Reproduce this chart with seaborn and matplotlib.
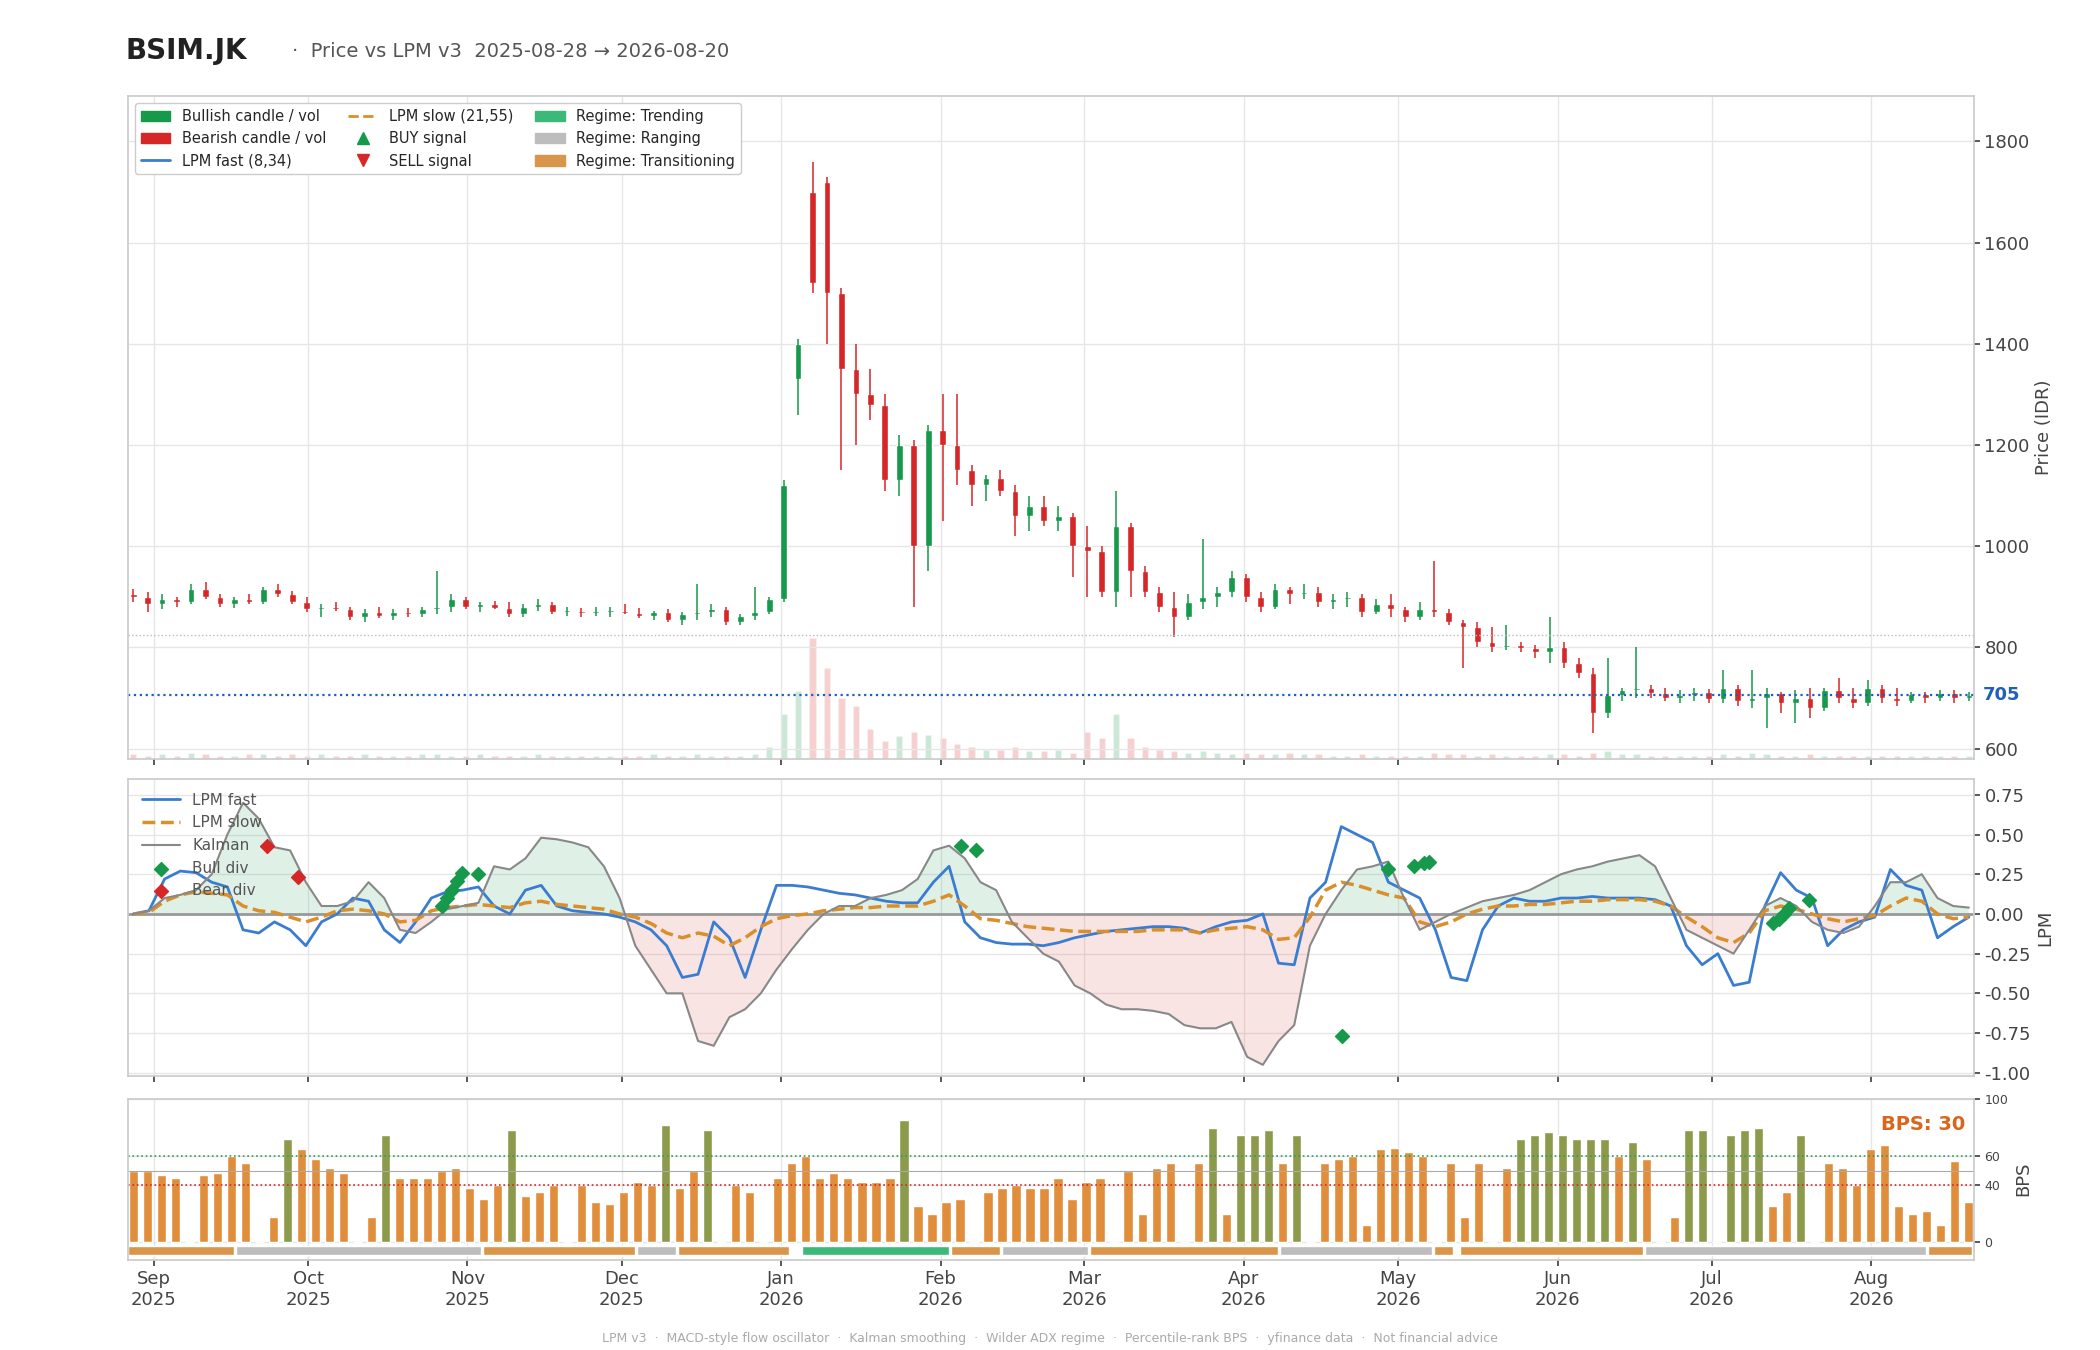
import matplotlib
matplotlib.use("Agg")
import matplotlib.dates as mdates
import matplotlib.pyplot as plt
import numpy as np
import pandas as pd
import seaborn as sns
from matplotlib.lines import Line2D
from matplotlib.patches import Patch

START, END = "2025-08-28", "2026-08-20"

# daily-ish candles (open, high, low, close)
candles = [
    (905, 915, 890, 900), (900, 910, 870, 885), (885, 905, 875, 895), (895, 900, 880, 890), (890, 925, 885, 915),
    (915, 930, 895, 900), (900, 905, 880, 885), (885, 900, 878, 895), (895, 905, 885, 890), (890, 920, 885, 915),
    (915, 925, 900, 905),
    (905, 912, 885, 890), (890, 900, 870, 875), (875, 885, 860, 880), (880, 890, 872, 875), (875, 880, 855, 860),
    (860, 875, 850, 870), (870, 880, 858, 862), (862, 875, 855, 870), (870, 878, 860, 865), (865, 880, 860, 875),
    (875, 950, 865, 880),
    (880, 905, 870, 895), (895, 900, 875, 880), (880, 890, 870, 885), (885, 892, 875, 878), (878, 890, 860, 865),
    (865, 885, 860, 880), (880, 895, 872, 885), (885, 890, 865, 870), (870, 880, 862, 872), (872, 878, 860, 868),
    (868, 880, 862, 870),
    (870, 880, 860, 872), (872, 885, 865, 868), (868, 878, 858, 862), (862, 872, 855, 870), (870, 875, 850, 855),
    (855, 870, 845, 865), (865, 925, 855, 870), (870, 885, 860, 875), (875, 880, 845, 850), (850, 865, 845, 862),
    (862, 920, 855, 870),
    (870, 900, 865, 895), (895, 1130, 890, 1120), (1330, 1410, 1260, 1400), (1700, 1760, 1500, 1520), (1720, 1730, 1400, 1500),
    (1500, 1510, 1150, 1350), (1350, 1400, 1200, 1300), (1300, 1350, 1250, 1280), (1280, 1300, 1110, 1130), (1130, 1220, 1100, 1200),
    (1200, 1210, 880, 1000),
    (1000, 1240, 950, 1230), (1230, 1300, 1050, 1200), (1200, 1300, 1120, 1150), (1150, 1160, 1080, 1120), (1120, 1140, 1090, 1135),
    (1135, 1150, 1100, 1110), (1110, 1120, 1020, 1060), (1060, 1100, 1030, 1080), (1080, 1100, 1040, 1050), (1050, 1080, 1030, 1060),
    (1060, 1065, 940, 1000),
    (1000, 1040, 900, 990), (990, 1000, 900, 910), (910, 1110, 880, 1040), (1040, 1045, 900, 950), (950, 960, 900, 910),
    (910, 920, 870, 880), (880, 910, 820, 860), (860, 905, 855, 890), (890, 1015, 875, 900), (900, 920, 880, 910),
    (910, 950, 900, 940),
    (940, 945, 890, 900), (900, 910, 870, 880), (880, 925, 875, 915), (915, 920, 885, 905), (905, 925, 895, 910),
    (910, 920, 880, 890), (890, 905, 875, 895), (895, 910, 880, 900), (900, 905, 860, 870), (870, 895, 865, 885),
    (885, 905, 860, 875),
    (875, 880, 850, 860), (860, 890, 855, 875), (875, 970, 860, 870), (870, 875, 845, 850), (850, 855, 760, 840),
    (840, 850, 800, 810), (810, 840, 790, 800), (800, 845, 795, 805), (805, 810, 790, 798), (798, 805, 780, 790),
    (790, 860, 770, 800),
    (800, 810, 760, 770), (770, 780, 740, 750), (750, 760, 630, 670), (670, 780, 660, 705), (705, 720, 695, 715),
    (715, 800, 700, 720), (720, 725, 700, 710), (710, 720, 695, 700), (700, 715, 690, 705), (705, 720, 695, 712),
    (712, 718, 690, 698),
    (698, 755, 690, 720), (720, 725, 685, 695), (695, 755, 680, 700), (700, 720, 640, 710), (710, 712, 670, 690),
    (690, 715, 650, 700), (700, 720, 660, 680), (680, 720, 675, 715), (715, 740, 690, 700), (700, 720, 680, 690),
    (690, 735, 685, 720),
    (720, 725, 690, 700), (700, 720, 685, 695), (695, 712, 690, 708), (708, 712, 690, 700), (700, 715, 695, 710),
    (710, 715, 690, 700), (700, 712, 695, 705),
]
volumes = [
    3, 2, 3, 2, 4, 3, 2, 2, 3, 3, 2,
    3, 2, 3, 2, 2, 3, 2, 2, 2, 3, 3,
    2, 2, 3, 2, 2, 2, 3, 2, 2, 2, 2,
    2, 2, 2, 3, 2, 2, 3, 2, 2, 2, 3,
    8, 30, 45, 80, 60, 40, 35, 20, 12, 15, 18,
    16, 14, 10, 8, 6, 6, 8, 5, 5, 6, 4,
    18, 14, 30, 14, 8, 6, 5, 4, 5, 4, 3,
    4, 3, 3, 4, 3, 3, 2, 2, 3, 2, 2,
    2, 2, 4, 3, 3, 2, 3, 2, 2, 2, 3,
    3, 2, 4, 5, 3, 3, 2, 2, 2, 2, 2,
    3, 2, 4, 3, 2, 2, 3, 2, 2, 2, 2,
    2, 2, 2, 2, 2, 2, 2,
]
last_price = 705
resistance = 825

lpm_fast = [
    0, 0.02, 0.22, 0.27, 0.26, 0.2, 0.17, -0.1, -0.12, -0.05,
    -0.1, -0.2, -0.05, 0.0, 0.1, 0.08, -0.1, -0.18, -0.05, 0.1,
    0.14, 0.15, 0.17, 0.05, 0.0, 0.15, 0.18, 0.05, 0.02, 0.01,
    0, -0.02, -0.05, -0.1, -0.2, -0.4, -0.38, -0.05, -0.15, -0.4,
    -0.1, 0.18, 0.18, 0.17, 0.15, 0.13, 0.12, 0.1, 0.08, 0.07,
    0.07, 0.2, 0.3, -0.05, -0.15, -0.18, -0.19, -0.19, -0.2, -0.18,
    -0.15, -0.13, -0.11, -0.1, -0.09, -0.08, -0.08, -0.09, -0.12, -0.08,
    -0.05, -0.04, 0.0, -0.31, -0.32, 0.1, 0.2, 0.55, 0.5, 0.45,
    0.2, 0.15, 0.1, -0.1, -0.4, -0.42, -0.1, 0.05, 0.1, 0.08,
    0.08, 0.1, 0.1, 0.11, 0.1, 0.1, 0.1, 0.09, 0.05, -0.2,
    -0.32, -0.25, -0.45, -0.43, 0.05, 0.26, 0.15, 0.1, -0.2, -0.1,
    -0.05, -0.02, 0.28, 0.18, 0.15, -0.15, -0.08, -0.02,
]
lpm_slow = [
    0, 0.01, 0.08, 0.12, 0.14, 0.13, 0.12, 0.05, 0.02, 0.01,
    -0.02, -0.05, -0.02, 0.02, 0.03, 0.02, 0.0, -0.05, -0.04, 0.02,
    0.04, 0.05, 0.06, 0.05, 0.04, 0.07, 0.08, 0.06, 0.05, 0.04,
    0.03, 0.0, -0.02, -0.06, -0.12, -0.15, -0.12, -0.14, -0.2, -0.15,
    -0.08, -0.03, -0.01, 0.0, 0.02, 0.03, 0.04, 0.04, 0.05, 0.05,
    0.05, 0.08, 0.12, 0.05, -0.03, -0.04, -0.06, -0.08, -0.09, -0.1,
    -0.11, -0.11, -0.11, -0.11, -0.11, -0.1, -0.1, -0.1, -0.12, -0.1,
    -0.09, -0.08, -0.1, -0.16, -0.15, -0.02, 0.15, 0.2, 0.18, 0.15,
    0.12, 0.1, -0.05, -0.08, -0.05, 0.0, 0.03, 0.05, 0.05, 0.06,
    0.06, 0.07, 0.08, 0.08, 0.09, 0.09, 0.09, 0.08, 0.05, -0.02,
    -0.08, -0.15, -0.18, -0.12, 0.02, 0.05, 0.03, 0.0, -0.03, -0.05,
    -0.03, -0.01, 0.05, 0.1, 0.08, 0.0, -0.03, -0.02,
]
kalman = [
    0, 0.02, 0.1, 0.12, 0.15, 0.25, 0.5, 0.7, 0.6, 0.42,
    0.4, 0.2, 0.05, 0.05, 0.08, 0.2, 0.1, -0.1, -0.12, -0.05,
    0.03, 0.05, 0.07, 0.3, 0.28, 0.35, 0.48, 0.47, 0.45, 0.42,
    0.3, 0.1, -0.2, -0.35, -0.5, -0.5, -0.8, -0.83, -0.65, -0.6,
    -0.5, -0.35, -0.22, -0.1, 0.0, 0.05, 0.05, 0.1, 0.12, 0.15,
    0.22, 0.4, 0.43, 0.35, 0.2, 0.15, -0.05, -0.15, -0.25, -0.3,
    -0.45, -0.5, -0.57, -0.6, -0.6, -0.61, -0.63, -0.7, -0.72, -0.72,
    -0.68, -0.9, -0.95, -0.8, -0.7, -0.2, 0.0, 0.15, 0.28, 0.3,
    0.33, 0.1, -0.1, -0.05, 0.0, 0.04, 0.08, 0.1, 0.12, 0.15,
    0.2, 0.25, 0.28, 0.3, 0.33, 0.35, 0.37, 0.3, 0.1, -0.1,
    -0.15, -0.2, -0.25, -0.1, 0.05, 0.1, 0.05, -0.05, -0.1, -0.12,
    -0.08, 0.05, 0.2, 0.2, 0.25, 0.1, 0.05, 0.04,
]
bull_div_dates = ["2025-10-27", "2025-10-28", "2025-10-29", "2025-10-30", "2025-10-31", "2025-11-03",
                  "2026-02-05", "2026-02-08", "2026-04-20", "2026-04-29", "2026-05-04", "2026-05-06",
                  "2026-05-07", "2026-07-13", "2026-07-14", "2026-07-15", "2026-07-16", "2026-07-20"]
bull_div_vals = [0.05, 0.1, 0.15, 0.21, 0.26, 0.25, 0.43, 0.4, -0.77, 0.28, 0.3, 0.32, 0.33,
                 -0.06, -0.03, 0.0, 0.04, 0.09]
bear_div_dates = ["2025-09-23", "2025-09-29"]
bear_div_vals = [0.43, 0.23]

bps = [
    50, 50, 47, 45, 0, 47, 48, 60, 55, 0, 18,
    72, 65, 58, 52, 48, 0, 18, 75, 45, 45, 45,
    50, 52, 38, 30, 40, 78, 32, 35, 40, 0, 40,
    28, 27, 35, 42, 40, 82, 38, 50, 78, 0, 40,
    35, 0, 45, 55, 60, 45, 48, 45, 42, 42, 45,
    85, 25, 20, 28, 30, 0, 35, 38, 40, 38, 38,
    45, 30, 42, 45, 0, 50, 20, 52, 55, 0, 55,
    80, 20, 75, 75, 78, 55, 75, 0, 55, 58, 60,
    12, 65, 66, 63, 60, 0, 55, 18, 55, 0, 52,
    72, 75, 77, 75, 72, 72, 72, 60, 70, 58, 0,
    18, 78, 78, 0, 75, 78, 80, 25, 35, 75, 0,
    55, 52, 40, 65, 68, 25, 20, 22, 12, 57, 28,
]
bps_last = 30

regime_starts = ["2025-08-27", "2025-09-17", "2025-11-04", "2025-12-04", "2025-12-12", "2026-01-05",
                 "2026-02-03", "2026-02-13", "2026-03-02", "2026-04-08", "2026-05-08", "2026-05-13",
                 "2026-06-18", "2026-08-12"]
regime_ends = ["2025-09-16", "2025-11-03", "2025-12-03", "2025-12-11", "2026-01-02", "2026-02-02",
               "2026-02-12", "2026-03-01", "2026-04-07", "2026-05-07", "2026-05-11", "2026-06-17",
               "2026-08-11", "2026-08-20"]
regime_kind = ["Transitioning", "Ranging", "Transitioning", "Ranging", "Transitioning", "Trending",
               "Transitioning", "Ranging", "Transitioning", "Ranging", "Transitioning", "Transitioning",
               "Ranging", "Transitioning"]

BULL, BEAR = "#16994a", "#d62728"
FAST, SLOW, KAL = "#3a7dd0", "#d98f2b", "#888888"
REGIME_COLORS = {"Trending": "#3cb878", "Ranging": "#bdbdbd", "Transitioning": "#d9964a"}

sns.set_theme(style="whitegrid")
plt.rcParams["font.family"] = ["DejaVu Sans"]
plt.rcParams["grid.color"] = "#e6e6e6"
plt.rcParams["axes.edgecolor"] = "#cccccc"

df = pd.DataFrame(candles, columns=["open", "high", "low", "close"])
df["date"] = pd.date_range(START, END, periods=len(df))
df["vol"] = volumes[: len(df)] + [2] * max(0, len(df) - len(volumes))
df["up"] = df["close"] >= df["open"]

lpm = pd.DataFrame({"fast": lpm_fast, "slow": lpm_slow, "kal": kalman})
lpm["date"] = pd.date_range(START, END, periods=len(lpm))
bps_df = pd.DataFrame({"bps": bps})
bps_df["date"] = pd.date_range(START, END, periods=len(bps_df))

fig = plt.figure(figsize=(21, 13.5), dpi=100)
ax1 = fig.add_axes([0.061, 0.438, 0.879, 0.491])
ax2 = fig.add_axes([0.061, 0.203, 0.879, 0.220], sharex=ax1)
ax3 = fig.add_axes([0.061, 0.067, 0.879, 0.119], sharex=ax1)

# --- price panel
axv = ax1.twinx()
vcol = np.where(df["up"], BULL, BEAR)
axv.bar(df["date"], df["vol"], width=1.2, color=vcol, alpha=0.22)
axv.set_ylim(0, df["vol"].max() * 5.5)
axv.axis("off")

ax1.vlines(df["date"], df["low"], df["high"], colors=vcol, lw=1.1)
body_lo = df[["open", "close"]].min(axis=1)
body_h = (df["close"] - df["open"]).abs().clip(lower=3)
ax1.bar(df["date"], body_h, bottom=body_lo, width=1.3, color=vcol)
ax1.axhline(last_price, color="#1f5fbf", ls=":", lw=1.6)
ax1.axhline(resistance, color="#bbbbbb", ls=":", lw=1)
ax1.text(1.005, last_price, f"{last_price}", transform=ax1.get_yaxis_transform(),
         color="#1f5fbf", fontsize=13, fontweight="bold", va="center")
ax1.set_ylim(580, 1890)
ax1.yaxis.tick_right()
ax1.yaxis.set_label_position("right")
ax1.set_ylabel("Price (IDR)", fontsize=13, color="#444444")
ax1.set_zorder(axv.get_zorder() + 1)
ax1.patch.set_visible(False)

handles = [
    Patch(color=BULL, label="Bullish candle / vol"),
    Patch(color=BEAR, label="Bearish candle / vol"),
    Line2D([], [], color=FAST, lw=2, label="LPM fast (8,34)"),
    Line2D([], [], color=SLOW, lw=2, ls="--", label="LPM slow (21,55)"),
    Line2D([], [], color=BULL, marker="^", ls="", ms=9, label="BUY signal"),
    Line2D([], [], color=BEAR, marker="v", ls="", ms=9, label="SELL signal"),
    Patch(color=REGIME_COLORS["Trending"], label="Regime: Trending"),
    Patch(color=REGIME_COLORS["Ranging"], label="Regime: Ranging"),
    Patch(color=REGIME_COLORS["Transitioning"], label="Regime: Transitioning"),
]
ax1.legend(handles=handles, ncol=3, loc="upper left", fontsize=10.5, frameon=True,
           framealpha=1, edgecolor="#cccccc", columnspacing=1.5)

# --- LPM panel
ax2.fill_between(lpm["date"], lpm["kal"], 0, where=lpm["kal"] >= 0, interpolate=True,
                 color="#2e9e5e", alpha=0.15, lw=0)
ax2.fill_between(lpm["date"], lpm["kal"], 0, where=lpm["kal"] < 0, interpolate=True,
                 color="#d94a4a", alpha=0.15, lw=0)
ax2.axhline(0, color="#999999", lw=2)
sns.lineplot(data=lpm, x="date", y="fast", ax=ax2, color=FAST, lw=2, label="LPM fast")
sns.lineplot(data=lpm, x="date", y="slow", ax=ax2, color=SLOW, lw=2.5, ls="--", label="LPM slow")
sns.lineplot(data=lpm, x="date", y="kal", ax=ax2, color=KAL, lw=1.5, label="Kalman")
ax2.scatter(pd.to_datetime(bull_div_dates), bull_div_vals, marker="D", s=50, color=BULL,
            zorder=5, label="Bull div")
ax2.scatter(pd.to_datetime(bear_div_dates), bear_div_vals, marker="D", s=50, color=BEAR,
            zorder=5, label="Bear div")
ax2.set_ylim(-1.02, 0.85)
ax2.set_yticks(np.arange(-1.0, 0.76, 0.25))
ax2.yaxis.set_major_formatter(matplotlib.ticker.FormatStrFormatter("%.2f"))
ax2.yaxis.tick_right()
ax2.yaxis.set_label_position("right")
ax2.set_ylabel("LPM", fontsize=13, color="#444444")
ax2.set_xlabel("")
leg = ax2.legend(loc="upper left", fontsize=11, frameon=False, handlelength=2.5)
for t in leg.get_texts():
    t.set_color("#555555")

# --- BPS panel
bcol = np.where(bps_df["bps"] >= 70, "#8c9a4b", "#e08e3c")
ax3.bar(bps_df["date"], bps_df["bps"], width=1.8, color=bcol)
ax3.axhline(60, color="#2e9e5e", ls=":", lw=1.2)
ax3.axhline(50, color="#aaaaaa", lw=0.8)
ax3.axhline(40, color="#d62728", ls=":", lw=1.2)
for s, e, k in zip(regime_starts, regime_ends, regime_kind):
    s, e = pd.Timestamp(s), pd.Timestamp(e)
    ax3.bar(s, 6.5, bottom=-9, width=(e - s).days + 0.6, align="edge",
            color=REGIME_COLORS[k])
ax3.text(0.995, 0.9, f"BPS: {bps_last}", transform=ax3.transAxes, ha="right", va="top",
         color="#d9661c", fontsize=14, fontweight="bold")
ax3.set_ylim(-12, 100)
ax3.set_yticks([0, 40, 60, 100])
ax3.yaxis.tick_right()
ax3.yaxis.set_label_position("right")
ax3.set_ylabel("BPS", fontsize=13, color="#444444")

ax1.set_xlim(pd.Timestamp("2025-08-27"), pd.Timestamp("2026-08-21"))
ax3.xaxis.set_major_locator(mdates.MonthLocator())
ax3.xaxis.set_major_formatter(mdates.DateFormatter("%b\n%Y"))
for a in (ax1, ax2):
    plt.setp(a.get_xticklabels(), visible=False)
for a in (ax1, ax2, ax3):
    a.tick_params(axis="both", colors="#444444", labelsize=13, length=4)
    a.tick_params(axis="x", bottom=True, colors="#444444")
    for sp in a.spines.values():
        sp.set_color("#cccccc")
ax3.tick_params(axis="y", labelsize=9)

fig.text(0.060, 0.962, "BSIM.JK", fontsize=20, fontweight="bold", color="#222222", va="center")
fig.text(0.139, 0.962, "·  Price vs LPM v3  2025-08-28 → 2026-08-20", fontsize=14,
         color="#555555", va="center")
fig.text(0.5, 0.006, "LPM v3  ·  MACD-style flow oscillator  ·  Kalman smoothing  ·  Wilder ADX regime  ·  "
         "Percentile-rank BPS  ·  yfinance data  ·  Not financial advice",
         ha="center", fontsize=9, color="#aaaaaa")

fig.savefig("out.png", dpi=100)
